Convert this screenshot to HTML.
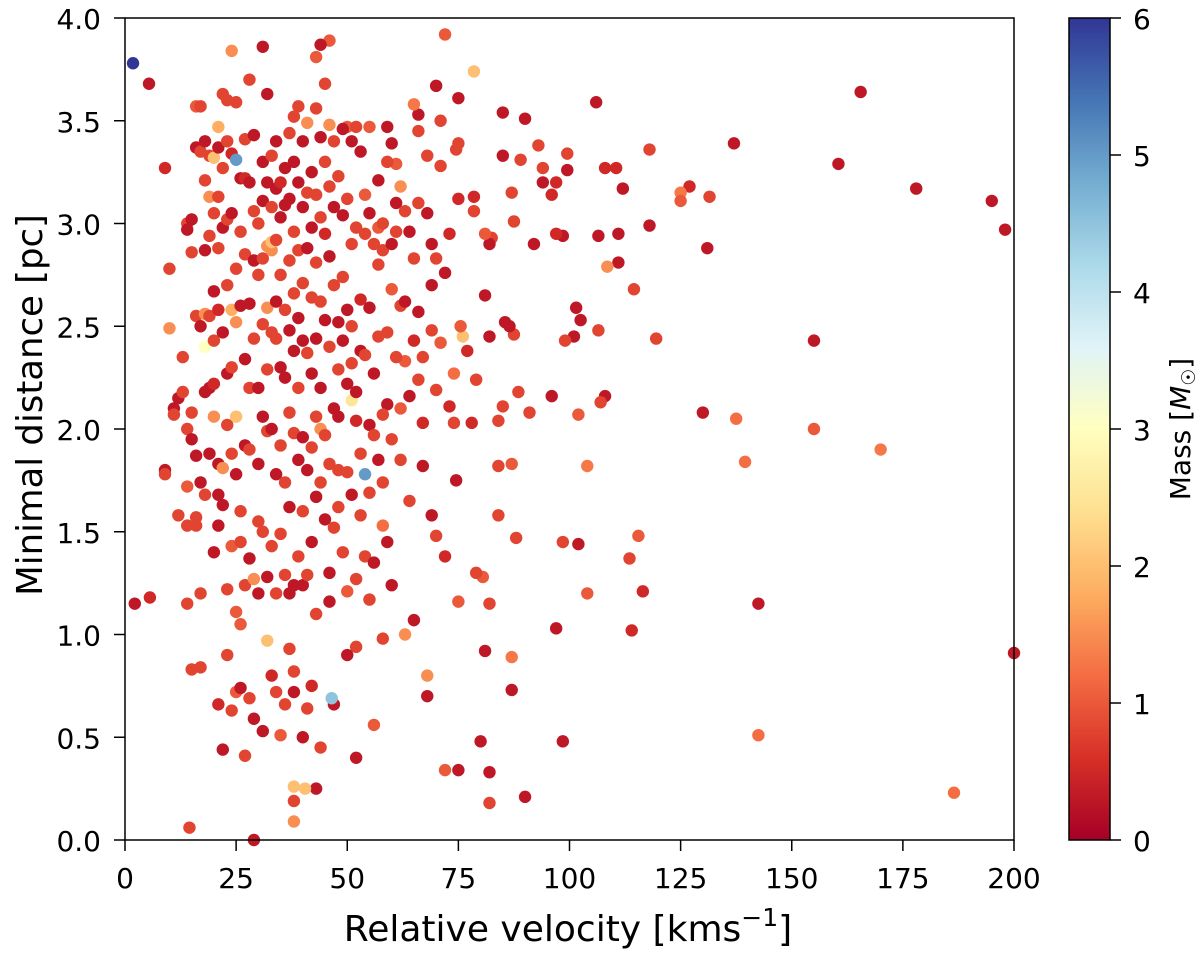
<!DOCTYPE html>
<html><head><meta charset="utf-8"><style>
body{margin:0;background:#fff;}
svg text{font-family:"DejaVu Sans","Liberation Sans",sans-serif;fill:#000;}
</style></head><body>
<svg id="chart" width="1200" height="954" viewBox="0 0 1200 954" xmlns="http://www.w3.org/2000/svg">
<defs><linearGradient id="cb" x1="0" y1="1" x2="0" y2="0">
<stop offset="0" stop-color="#a50026"/><stop offset="0.1" stop-color="#d73027"/><stop offset="0.2" stop-color="#f46d43"/><stop offset="0.3" stop-color="#fdae61"/><stop offset="0.4" stop-color="#fee090"/><stop offset="0.5" stop-color="#ffffbf"/><stop offset="0.6" stop-color="#e0f3f8"/><stop offset="0.7" stop-color="#abd9e9"/><stop offset="0.8" stop-color="#74add1"/><stop offset="0.9" stop-color="#4575b4"/><stop offset="1" stop-color="#313695"/>
</linearGradient></defs>
<g id="points"></g>
<rect x="125" y="18" width="889" height="822" fill="none" stroke="#000" stroke-width="1.5"/>
<g id="xticks"></g>
<g id="yticks"></g>
<text x="568" y="941" font-size="36" text-anchor="middle">Relative velocity [kms<tspan font-size="25" dy="-15">−1</tspan><tspan dy="15">]</tspan></text>
<text transform="translate(42,405) rotate(-90)" font-size="35.5" text-anchor="middle">Minimal distance [pc]</text>
<rect x="1069" y="18" width="41" height="822" fill="url(#cb)" stroke="#000" stroke-width="1.5"/>
<g id="cticks"></g>
<text transform="translate(1190,429) rotate(-90)" font-size="28" text-anchor="middle">Mass [<tspan font-style="italic">M</tspan><tspan font-size="19" dy="5">☉</tspan><tspan dy="-5">]</tspan></text>
</svg>
<script>
const xTicks=[0,25,50,75,100,125,150,175,200];
const yTicks=[0.0,0.5,1.0,1.5,2.0,2.5,3.0,3.5,4.0];
const cTicks=[0,1,2,3,4,5,6];
const points=[
[1.8,3.78,6],[5.4,3.68,0.3],[2.2,1.15,0.3],[5.6,1.18,0.5],[9,3.27,0.5],
[200,0.91,0.3],[198,2.97,0.3],[195,3.11,0.3],[186.5,0.23,1.2],[178,3.17,0.3],[170,1.9,1.3],[165.5,3.64,0.3],[160.5,3.29,0.3],[155,2.43,0.3],[155,2.0,1.0],[142.5,1.15,0.3],[142.5,0.51,1.2],[139.5,1.84,1.2],[137,3.39,0.3],[137.5,2.05,1.2],[131.5,3.13,0.8],[131,2.88,0.3],[130,2.08,0.3],[127,3.18,0.5],[125,3.15,1.3],[125,3.11,1],[119.5,2.44,0.8],[118,3.36,0.8],[118,2.99,0.3],[116.5,1.21,0.5],[115.5,1.48,1],[114,1.02,0.5],[113.5,1.37,0.8],[114.5,2.68,0.8],[112,3.17,0.3],[111,2.95,0.3],[111,2.81,0.3],[110.5,3.27,0.5],[108,3.27,0.5],[108.5,2.79,1.5],[108,2.16,0.3],[107,2.13,0.8],[106,3.59,0.3],[106.5,2.94,0.3],[106.5,2.48,0.8],[104,1.82,1.3],[104,1.2,1],[102,2.07,1],[102.5,2.53,0.3],[101.5,2.59,0.3],[101,2.45,0.3],[102,1.44,0.3],[99.5,3.26,0.3],[99.5,3.34,0.8],[98.5,2.94,0.3],[98.5,0.48,0.3],[98.5,1.45,0.8],[99,2.43,0.8],[97,3.2,0.5],[97,2.95,0.5],[97,1.03,0.3],[96,3.14,0.5],[96,2.16,0.3],[94,3.27,0.8],[94,3.2,0.3],[93,3.38,0.8],[92,2.9,0.3],[91,2.08,0.8],[90,3.51,0.3],[90,0.21,0.3],[89,3.31,0.8],[88.5,2.18,0.8],[88,1.47,0.8],[87,3.15,0.8],[87.5,3.01,0.8],[87.5,2.46,0.8],[87,1.83,1],[87,0.89,1.3],[87,0.73,0.3],[86.5,2.5,0.3],[85.5,2.52,0.3],[85,3.54,0.3],[85,3.33,0.3],[85,2.11,0.8],[84,2.04,0.8],[84,1.58,0.8],[84,1.82,0.8],[82.5,2.93,0.8],[82,2.9,0.3],[82,2.45,0.3],[82,1.15,0.8],[82,0.33,0.3],[82,0.18,0.8],[81,2.95,1],[81,2.65,0.3],[81,0.92,0.3],[80.5,1.28,1],[80,0.48,0.3],[79,2.24,0.8],[79,1.3,0.8],[78.5,3.74,2],[78.5,3.13,0.5],[78.5,3.06,0.8],[78,2.03,0.5],[77,2.38,0.5],[76,2.45,2],[75.5,2.5,1],[75,3.61,0.3],[75,3.39,0.8],[75,3.12,0.5],[74.5,3.36,0.8],[74.5,1.75,0.3],[75,1.16,1],[75,0.34,0.3],[74,2.27,1.2],[74,2.03,0.8],[73,2.95,0.5],[73,2.11,0.5],[72,3.92,1],[72,1.38,0.5],[72,0.34,1],[71,3.5,0.8],[71,2.42,1],[70,2.19,0.8],[70,1.48,0.8],[70,3.67,0.3],[69,2.9,0.3],[69,2.7,0.3],[69,1.58,0.3],[68,0.8,1.5],[68,0.7,0.3],[68,3.33,0.8],[67,1.82,0.3],[67,2.03,0.5],[66,3.53,0.3],[66,3.45,0.8],[66,2.24,0.8],[65,3.58,1.3],[65,2.43,0.5],[65,1.07,0.3],[64,2.16,0.3],[63,1.0,1.5],[63,2.33,1],[62,3.18,1.5],[62,1.85,0.8],[62,2.6,0.8],[61,3.29,1],[61,2.96,0.8],[60,1.24,0.3],[60,2.68,1],[59,3.3,0.8],[59,2.12,0.3],[58,2.87,0.8],[58,1.53,1.2],[58,0.98,0.8],[57,2.98,1],[57,2.45,0.8],[56,2.27,0.3],[56,0.56,1],[55,3.47,1],[55,2.59,0.3],[55,1.69,0.8],[55,1.17,0.8],[54,1.78,5],[54,3.14,1],[53,2.63,0.5],[53,1.58,0.8],[52,2.04,0.5],[52,0.94,0.8],[52,0.4,0.3],[51,2.5,0.8],[51,2.14,2.5],[50,3.47,1],[50,1.21,1],[50,0.9,0.3],[48,2.06,0.3],[48,1.8,0.8],[47,0.66,0.3],[46.5,0.69,4.5],[46,1.16,0.3],[46,3.89,1],[45,3.68,0.8],[44,3.87,0.3],[44,2.0,1.5],[44,0.45,0.8],[43,3.81,1],[43,0.25,0.3],[40.5,0.25,2],[38,0.26,2],[38,0.09,1.5],[38,0.19,0.8],[29,0.0,0.3],[14.5,0.06,0.8],[20,1.4,0.3],[14,1.15,0.8],[15,0.83,0.8],[17,0.84,0.8],[21,0.66,0.5],[22,0.44,0.3],[23,0.9,0.8],[24,0.63,0.8],[25,0.72,1],[26,0.74,0.3],[27,0.41,0.8],[28,0.69,0.8],[29,0.59,0.3],[31,0.53,0.3],[32,0.97,2],[33,0.8,0.5],[34,0.72,0.8],[35,0.51,1],[36,0.66,0.8],[37,0.93,0.8],[38,0.72,0.3],[38,0.82,0.8],[40,0.5,0.3],[41,0.64,0.8],[42,0.75,0.5],
[10,2.78,0.8],[10,2.49,1.5],[9,1.8,0.3],[9,1.78,0.8],[11,2.1,0.3],[11,2.07,0.8],[12,1.58,0.8],[12,2.15,0.3],[13,2.35,0.8],[13,2.18,0.8],[14,3.0,0.8],[14,2.97,0.3],[14,2.0,0.8],[14,1.72,1],[14,1.53,0.8],[15,3.02,0.3],[15,2.86,0.8],[15,2.08,0.8],[15,1.95,0.3],[16,3.57,1],[16,3.37,0.3],[16,2.55,0.8],[16,1.87,0.3],[16,1.57,0.8],[16,1.53,0.8],[17,3.57,0.8],[17,3.35,0.8],[17,2.5,0.3],[17,1.74,0.3],[17,1.2,0.8],[18,3.4,0.3],[18,3.21,0.8],[18,2.87,0.3],[18,2.56,1.5],[18,2.4,3],[18,2.18,0.3],[18,1.68,0.8],[19,3.33,0.8],[19,3.13,1.5],[19,2.94,0.8],[19,2.55,0.8],[19,2.2,0.3],[19,1.88,0.3],[20,3.32,2],[20,3.05,0.8],[20,2.67,0.3],[20,2.43,0.8],[20,2.22,0.5],[20,2.06,1.5],[21,3.47,1.8],[21,3.37,0.3],[21,3.13,0.8],[21,2.88,0.8],[21,2.58,0.5],[21,1.83,0.3],[21,1.53,0.3],[21,1.68,0.3],[22,3.63,0.8],[22,3.27,0.8],[22,2.98,0.3],[22,2.47,0.3],[22,1.81,1.5],[22,1.63,0.3],[23,3.6,0.8],[23,3.4,0.8],[23,3.02,0.8],[23,2.7,0.8],[23,2.27,0.3],[23,2.02,0.8],[23,1.22,0.8],[24,3.84,1.5],[24,3.34,0.5],[24,3.05,0.3],[24,2.58,1.8],[24,2.3,0.8],[24,1.88,0.8],[24,1.43,1],[25,3.59,0.8],[25,3.31,5],[25,2.78,0.8],[25,2.52,1.5],[25,2.06,2],[25,1.78,0.3],[25,1.11,1],[26,3.22,0.3],[26,2.96,0.8],[26,2.6,0.3],[26,1.6,0.8],[26,1.45,0.8],[26,1.05,1],[27,3.41,0.8],[27,3.22,0.5],[27,2.85,0.8],[27,2.34,0.3],[27,1.92,0.3],[27,1.24,0.8],[28,3.7,0.8],[28,3.2,0.3],[28,2.61,0.3],[28,2.2,0.8],[28,1.9,0.8],[28,1.37,0.3],[29,3.43,0.3],[29,3.06,0.8],[29,2.82,0.3],[29,2.44,0.8],[29,1.27,1.5],[30,3.0,0.8],[30,2.75,0.8],[30,2.2,0.3],[30,1.83,0.3],[30,1.55,0.8],[30,1.2,0.3],[31,3.86,0.3],[31,3.3,0.3],[31,3.11,0.3],[31,2.83,0.8],[31,2.51,0.8],[31,2.06,0.3],[31,1.5,0.8],[32,3.63,0.3],[32,3.2,0.3],[32,2.89,1.5],[32,2.59,1.5],[32,2.29,0.8],[32,1.99,0.8],[32,1.28,0.3],[33,3.33,0.8],[33,3.08,0.8],[33,2.87,1.5],[33,2.91,2],[33,2.47,0.8],[33,2.0,0.3],[33,1.43,0.8],[34,3.4,0.3],[34,3.17,0.3],[34,2.92,0.8],[34,2.62,0.3],[34,2.44,0.8],[34,1.78,0.3],[34,1.2,0.8],[35,3.2,0.5],[35,3.03,0.3],[35,2.75,0.8],[35,2.3,0.3],[35,1.92,0.8],[35,1.49,0.8],[36,3.27,0.3],[36,3.09,0.3],[36,2.58,0.8],[36,2.25,0.3],[36,1.74,0.8],[36,1.29,0.8],[37,3.44,0.8],[37,3.12,0.3],[37,2.82,0.8],[37,2.48,0.3],[37,2.08,0.8],[37,1.62,0.3],[37,1.2,0.3],[38,3.52,0.8],[38,3.3,0.3],[38,2.96,0.8],[38,2.66,0.8],[38,2.38,0.3],[38,1.98,0.8],[38,1.24,0.3],[39,3.57,0.8],[39,3.2,0.3],[39,2.87,0.8],[39,2.54,0.3],[39,2.2,0.8],[39,1.85,0.3],[39,1.38,0.8],[40,3.4,0.3],[40,3.08,0.3],[40,2.71,0.8],[40,2.43,0.3],[40,1.96,0.3],[40,1.6,0.8],[40,1.24,0.3],[41,3.49,1.5],[41,3.15,0.8],[41,2.88,0.3],[41,2.37,0.8],[41,1.8,0.3],[41,1.29,0.8],[42,3.25,0.3],[42,2.98,0.3],[42,2.64,0.8],[42,2.27,0.3],[42,1.91,0.8],[42,1.45,0.3],[43,3.56,0.8],[43,3.14,0.8],[43,2.81,0.8],[43,2.44,0.3],[43,2.06,0.8],[43,1.67,0.3],[43,1.1,0.8],[44,3.42,0.3],[44,3.03,0.8],[44,2.62,0.8],[44,2.2,0.3],[44,1.74,0.8],[45,3.3,0.8],[45,2.95,0.5],[45,2.53,0.3],[45,1.97,0.8],[45,1.56,0.3],[46,3.48,1.5],[46,3.18,0.8],[46,2.84,0.3],[46,2.4,0.8],[46,1.83,0.8],[46,1.3,0.3],[47,3.4,0.8],[47,3.08,0.3],[47,2.7,0.8],[47,2.1,0.3],[47,1.52,0.8],[48,3.23,0.8],[48,2.52,0.3],[48,2.29,0.8],[48,1.62,0.8],[49,3.46,0.3],[49,3.04,0.3],[49,2.74,0.8],[49,2.43,0.3],[49,1.4,0.8],[50,3.12,0.8],[50,2.58,0.3],[50,2.22,0.3],[50,1.79,0.8],[51,3.4,0.3],[51,2.9,0.8],[51,2.32,0.8],[51,1.68,0.3],[52,3.47,0.8],[52,2.98,0.8],[52,2.18,0.3],[52,1.27,0.8],[53,3.35,0.3],[53,2.38,0.3],[53,1.88,0.8],[54,2.95,0.8],[54,2.36,0.8],[54,1.38,0.8],[55,3.05,0.3],[55,2.02,0.3],[56,2.9,0.8],[56,1.97,0.8],[56,1.35,0.3],[57,3.21,0.3],[57,2.8,0.8],[57,1.85,0.3],[58,3.0,0.8],[58,2.07,0.8],[58,1.74,0.8],[59,3.47,0.3],[59,2.47,0.8],[59,1.45,0.3],[60,3.39,0.3],[60,2.9,0.3],[60,1.95,0.8],[61,3.1,0.3],[61,2.35,0.8],[62,2.1,1],[63,3.06,0.8],[63,2.62,0.3],[64,2.96,0.3],[64,1.65,0.8],[65,2.83,0.8],[66,3.1,0.8],[66,2.57,0.3],[67,2.35,0.8],[68,3.05,0.3],[69,2.48,0.8],[70,2.83,0.8],[71,3.28,0.8],[72,2.76,0.3]
];
const NS="http://www.w3.org/2000/svg";
const X0=125,X1=1014,Y0=840,Y1=18;
function xs(v){return X0+(v/200)*(X1-X0);}
function ys(d){return Y0-(d/4)*(Y0-Y1);}
function cs(m){return Y0-(m/6)*(Y0-Y1);}
const stops=[[165,0,38],[215,48,39],[244,109,67],[253,174,97],[254,224,144],[255,255,191],[224,243,248],[171,217,233],[116,173,209],[69,117,180],[49,54,149]];
function cmap(m){let t=Math.max(0,Math.min(1,m/6))*10;let i=Math.min(9,Math.floor(t));let f=t-i;let a=stops[i],b=stops[i+1];return `rgb(${Math.round(a[0]+(b[0]-a[0])*f)},${Math.round(a[1]+(b[1]-a[1])*f)},${Math.round(a[2]+(b[2]-a[2])*f)})`;}
function mk(tag,attrs,parent){const e=document.createElementNS(NS,tag);for(const k in attrs)e.setAttribute(k,attrs[k]);parent.appendChild(e);return e;}
const pg=document.getElementById('points');
points.forEach(p=>{const c=mk('circle',{cx:xs(p[0]),cy:ys(p[1]),r:6.2,fill:cmap(p[2])},pg);

});
const xg=document.getElementById('xticks');
xTicks.forEach(v=>{const l=mk('line',{x1:xs(v),x2:xs(v),y1:840,y2:851,stroke:'#000','stroke-width':1.5},xg);


const t=mk('text',{x:xs(v),y:888,'font-size':28,'text-anchor':'middle'},xg);t.textContent=v;

});
const yg=document.getElementById('yticks');
yTicks.forEach(v=>{const l=mk('line',{x1:114,x2:125,y1:ys(v),y2:ys(v),stroke:'#000','stroke-width':1.5},yg);


const t=mk('text',{x:101,y:ys(v)+11,'font-size':28,'text-anchor':'end'},yg);t.textContent=v.toFixed(1);

});
const cg=document.getElementById('cticks');
cTicks.forEach(v=>{const l=mk('line',{x1:1110,x2:1121,y1:cs(v),y2:cs(v),stroke:'#000','stroke-width':1.5},cg);


const t=mk('text',{x:1133,y:cs(v)+11,'font-size':28},cg);t.textContent=v;

});
</script>
</body></html>
